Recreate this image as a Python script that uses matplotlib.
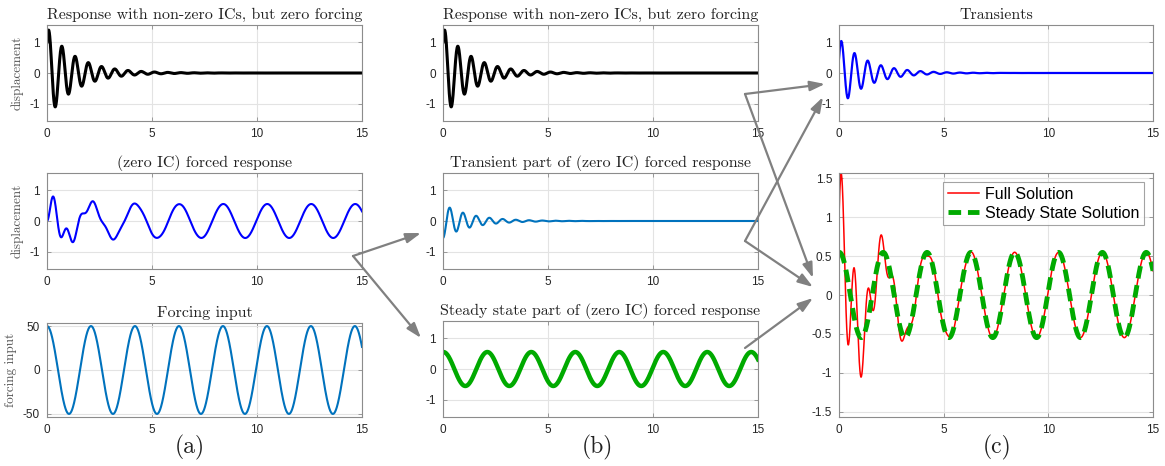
import numpy as np
import matplotlib
matplotlib.use("Agg")
import matplotlib.pyplot as plt
from matplotlib.patches import FancyArrowPatch
from matplotlib.ticker import FuncFormatter

# Mass-spring-damper: m x'' + c x' + k x = F cos(w t)
mass = 1.0
damping = 1.5
stiffness = 100.0
force_amp = 50.0
force_freq = 3.0
x0_free = 1.0
v0_free = 10.0
t_end = 15.0
n_samples = 1501

x_ticks = [0, 5, 10, 15]
disp_ticks = [-1, 0, 1]
force_ticks = [-50, 0, 50]
big_ticks = [-1.5, -1, -0.5, 0, 0.5, 1, 1.5]

titles_a = ["Response with non-zero ICs, but zero forcing",
            "(zero IC) forced response",
            "Forcing input"]
titles_b = ["Response with non-zero ICs, but zero forcing",
            "Transient part of (zero IC) forced response",
            "Steady state part of (zero IC) forced response"]
title_c = "Transients"
legend_labels = ["Full Solution", "Steady State Solution"]
panel_labels = ["(a)", "(b)", "(c)"]

# ---- responses of the oscillator ----
t = np.linspace(0.0, t_end, n_samples)
sigma = damping / (2 * mass)
wd = np.sqrt(stiffness / mass - sigma ** 2)


def homogeneous(x0, v0):
    return np.exp(-sigma * t) * (x0 * np.cos(wd * t)
                                 + (v0 + sigma * x0) / wd * np.sin(wd * t))


amp_ss = force_amp / np.hypot(stiffness - mass * force_freq ** 2, damping * force_freq)
phase_ss = np.arctan2(damping * force_freq, stiffness - mass * force_freq ** 2)
steady = amp_ss * np.cos(force_freq * t - phase_ss)
ss0 = amp_ss * np.cos(phase_ss)
ssv0 = amp_ss * force_freq * np.sin(phase_ss)

free = homogeneous(x0_free, v0_free)
forced_transient = homogeneous(-ss0, -ssv0)
forced = steady + forced_transient
transients = free + forced_transient
full = free + forced
forcing = force_amp * np.cos(force_freq * t)

# ---- figure ----
W, H = 1165, 466
plt.rcParams["axes.unicode_minus"] = False
plt.rcParams["font.family"] = ["Liberation Sans", "DejaVu Sans"]
fig = plt.figure(figsize=(W / 100, H / 100), dpi=100)
fig.patch.set_facecolor("white")

SERIF = "cmr10"
SPINE = "#8c8c8c"
GRID = "#e3e3e3"
TICKC = "#262626"
ML_BLUE = "#0072BD"
GREEN = "#00AA00"


def rect(l, tp, r, b):
    return [l / W, 1 - b / H, (r - l) / W, (b - tp) / H]


def style(ax, yticks, ylim, title=None, ylabel=None):
    ax.set_xlim(0, t_end)
    ax.set_ylim(*ylim)
    ax.set_xticks(x_ticks)
    ax.set_yticks(yticks)
    ax.yaxis.set_major_formatter(FuncFormatter(lambda v, p: "%g" % v))
    ax.grid(True, color=GRID, lw=0.8)
    ax.set_axisbelow(True)
    for s in ax.spines.values():
        s.set_color(SPINE)
        s.set_linewidth(0.8)
    ax.tick_params(direction="in", length=3, width=0.6, color=SPINE,
                   labelsize=8.5, labelcolor=TICKC, top=True, right=True, pad=5)
    if title:
        ax.set_title(title, family=SERIF, fontsize=11.5, color="#222222", pad=4)
    if ylabel:
        ax.set_ylabel(ylabel, family=SERIF, fontsize=9.5, color="#555555", labelpad=4)


DL = (-1.55, 1.55)

a1 = fig.add_axes(rect(47, 25, 362, 121))
a1.plot(t, free, color="k", lw=2.2)
style(a1, disp_ticks, DL, titles_a[0], "displacement")

a2 = fig.add_axes(rect(47, 173, 362, 269))
a2.plot(t, forced, color="#0000FF", lw=1.5)
style(a2, disp_ticks, DL, titles_a[1], "displacement")

a3 = fig.add_axes(rect(47, 323, 362, 417))
a3.plot(t, forcing, color=ML_BLUE, lw=1.5)
style(a3, force_ticks, (-53.5, 53.5), titles_a[2], "forcing input")

b1 = fig.add_axes(rect(443, 25, 758, 121))
b1.plot(t, free, color="k", lw=2.2)
style(b1, disp_ticks, DL, titles_b[0])

b2 = fig.add_axes(rect(443, 173, 758, 269))
b2.plot(t, forced_transient, color=ML_BLUE, lw=1.5)
style(b2, disp_ticks, DL, titles_b[1])

b3 = fig.add_axes(rect(443, 321, 758, 417))
b3.plot(t, steady, color=GREEN, lw=3.2)
style(b3, disp_ticks, DL, titles_b[2])

c1 = fig.add_axes(rect(839, 25, 1153, 121))
c1.plot(t, transients, color="#0000FF", lw=1.6)
style(c1, disp_ticks, DL, title_c)

c2 = fig.add_axes(rect(839, 173, 1153, 417))
c2.plot(t, full, color="#FF0000", lw=1.1, label=legend_labels[0])
c2.plot(t, steady, color=GREEN, lw=3.5, dashes=(2.6, 1.4), label=legend_labels[1])
style(c2, big_ticks, (-1.57, 1.57))
leg = c2.legend(loc="upper right", fontsize=11.5, frameon=True, fancybox=False,
                edgecolor=SPINE, handlelength=2.0, borderpad=0.3,
                labelspacing=0.25, handletextpad=0.35, borderaxespad=0.55)
leg.get_frame().set_linewidth(0.8)

# panel labels
for lab, xp in zip(panel_labels, [190, 597, 997]):
    fig.text(xp / W, 1 - 447 / H, lab, family=SERIF, fontsize=17,
             ha="center", va="center", color="#222222")

# arrows linking the panels
arrows = [
    ((353, 256), (421, 233)),
    ((353, 256), (421, 338)),
    ((745, 94), (825, 84)),
    ((745, 94), (813, 278)),
    ((745, 241), (823, 97)),
    ((745, 241), (813, 287)),
    ((745, 348), (813, 298)),
]
for (x1, y1), (x2, y2) in arrows:
    fig.patches.append(FancyArrowPatch(
        (x1 / W, 1 - y1 / H), (x2 / W, 1 - y2 / H), transform=fig.transFigure,
        arrowstyle="-|>,head_length=0.9,head_width=0.3", mutation_scale=10,
        color="#808080", lw=1.6, shrinkA=0, shrinkB=0))

fig.savefig("out.png", dpi=100, facecolor="white")
